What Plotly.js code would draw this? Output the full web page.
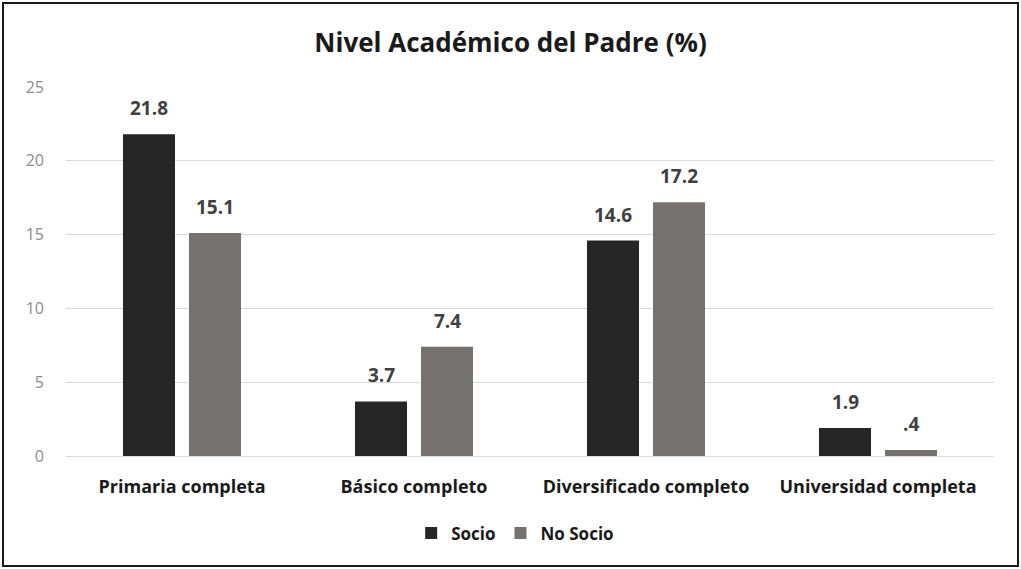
<!DOCTYPE html>
<html>
<head>
<meta charset="utf-8">
<script src="https://cdn.plot.ly/plotly-3.0.1.min.js"></script>
<style>
html,body{margin:0;padding:0;background:#fff;}
#wrap{position:relative;width:1021px;height:569px;}
#chart{width:1021px;height:569px;}
#frame{position:absolute;left:2px;top:2px;width:1013px;height:561px;border:2px solid #1a1a1a;pointer-events:none;}
</style>
</head>
<body>
<div id="wrap"><div id="chart"></div><div id="frame"></div></div>
<script>
const categories = ["Primaria completa", "Básico completo", "Diversificado completo", "Universidad completa"];
const socio = [21.8, 3.7, 14.6, 1.9];
const noSocio = [15.1, 7.4, 17.2, 0.4];
const socioLabels = ["21.8", "3.7", "14.6", "1.9"];
const noSocioLabels = ["15.1", "7.4", "17.2", ".4"];
const seriesNames = ["Socio", "No Socio"];
const yTicks = [0, 5, 10, 15, 20, 25];

const font = "'Open Sans', 'DejaVu Sans', sans-serif";

const traces = [
  {type: 'bar', name: seriesNames[0], x: categories, y: socio,
   marker: {color: '#262626'}, hoverinfo: 'none'},
  {type: 'bar', name: seriesNames[1], x: categories, y: noSocio,
   marker: {color: '#767171'}, hoverinfo: 'none'}
];

const annotations = [];
categories.forEach((c, i) => {
  annotations.push({x: c, y: socio[i], xref: 'x', yref: 'y', text: socioLabels[i],
    showarrow: false, xshift: -33, yshift: 11, yanchor: 'bottom',
    font: {family: font, size: 19, color: '#404040', weight: 'bold'}});
  annotations.push({x: c, y: noSocio[i], xref: 'x', yref: 'y', text: noSocioLabels[i],
    showarrow: false, xshift: 33, yshift: 11, yanchor: 'bottom',
    font: {family: font, size: 19, color: '#404040', weight: 'bold'}});
});

const layout = {
  width: 1021, height: 569,
  margin: {l: 66, r: 27, t: 87, b: 113},
  paper_bgcolor: '#fff', plot_bgcolor: '#fff',
  title: {text: 'Nivel Académico del Padre (%)', x: 0.5, xanchor: 'center', y: 0.925, yanchor: 'middle',
    font: {family: font, size: 26, color: '#1a1a1a', weight: 'bold'}},
  barmode: 'group', bargap: 0.431, bargroupgap: 0.212,
  xaxis: {type: 'category', showgrid: false, zeroline: false, showline: false, ticks: '', ticklabelstandoff: 18,
    tickfont: {family: font, size: 18, color: '#1a1a1a', weight: 'bold'}},
  yaxis: {range: [0, 25], tickvals: yTicks, ticktext: yTicks.map(String), showgrid: true, gridcolor: '#d9d9d9',
    gridwidth: 1, zeroline: true, zerolinecolor: '#d9d9d9', showline: false, ticks: '', ticklabelstandoff: 21,
    tickfont: {family: font, size: 16, color: '#8c8c8c'}},
  legend: {orientation: 'h', x: 0.484, xanchor: 'center', y: -0.21, yanchor: 'middle',
    font: {family: font, size: 17, color: '#1a1a1a', weight: 'bold'}, itemwidth: 30, traceorder: 'normal'},
  annotations: annotations,
  showlegend: true
};

Plotly.newPlot('chart', traces, layout, {displayModeBar: false, staticPlot: true});
</script>
</body>
</html>
